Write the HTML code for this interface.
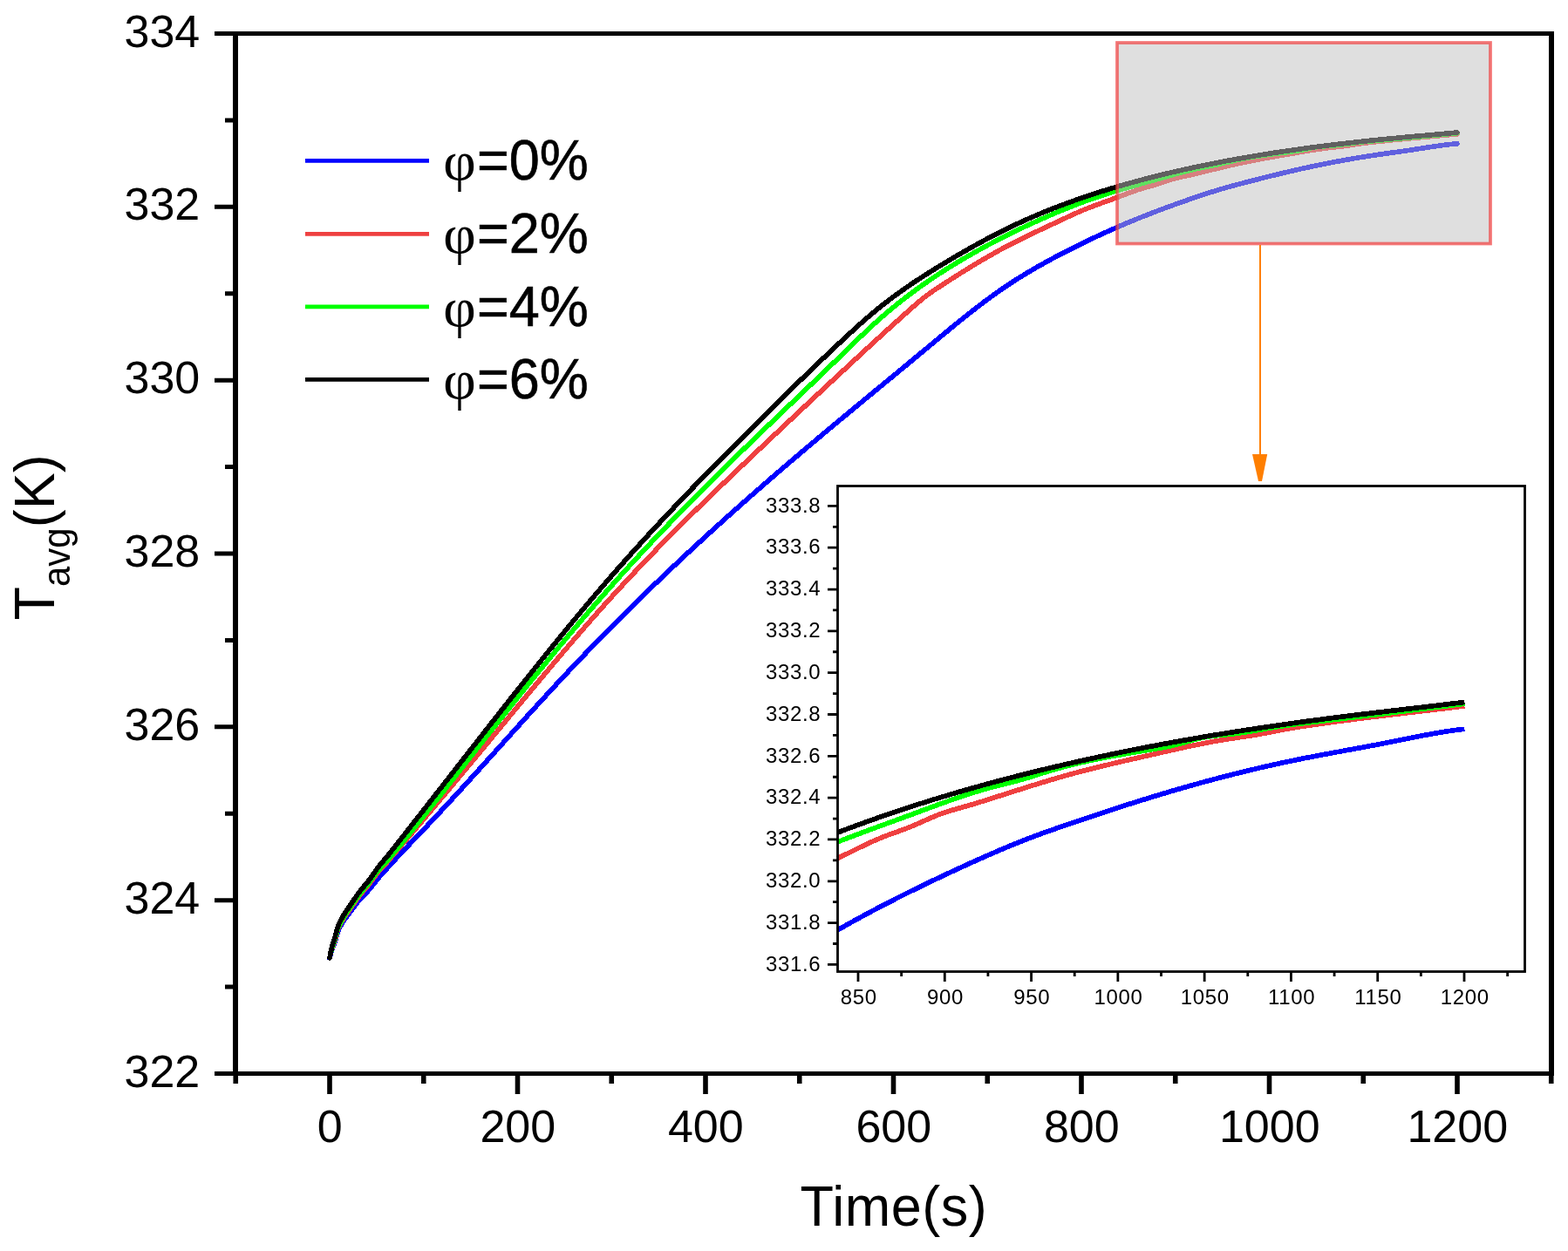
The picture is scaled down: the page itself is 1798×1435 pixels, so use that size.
<!DOCTYPE html>
<html><head><meta charset="utf-8"><title>T_avg vs Time</title>
<style>html,body{margin:0;padding:0;background:#fff;}svg{display:block;}</style>
</head><body>
<svg width="1798" height="1435" viewBox="0 0 1798 1435"><rect x="0" y="0" width="1798" height="1435" fill="#fff"/><g fill="none" stroke-width="5.7" stroke-linejoin="round" stroke-linecap="round" shape-rendering="crispEdges"><path stroke="#0000ff" d="M378.00,1099.00L379.08,1095.09L380.15,1091.16L381.23,1087.91L382.31,1085.05L383.39,1082.22L384.46,1079.16L385.54,1075.29L386.62,1071.43L387.70,1068.27L388.77,1065.57L389.85,1063.35L390.93,1061.40L392.01,1059.55L393.08,1057.76L394.16,1056.06L395.24,1054.47L396.32,1052.99L397.39,1051.60L398.47,1050.25L399.55,1048.87L400.63,1047.44L401.70,1046.01L402.78,1044.57L403.86,1043.14L404.94,1041.71L406.01,1040.28L407.09,1038.83L408.17,1037.40L409.25,1036.00L410.32,1034.65L411.40,1033.35L412.48,1032.08L413.56,1030.85L414.63,1029.65L415.71,1028.48L416.79,1027.37L417.87,1026.30L418.94,1025.26L420.02,1024.19L421.10,1023.06L422.18,1021.84L423.25,1020.57L424.33,1019.26L425.41,1017.92L426.49,1016.58L427.56,1015.23L428.64,1013.87L429.72,1012.51L430.80,1011.15L431.88,1009.79L434.03,1007.11L436.19,1004.51L438.34,1002.01L440.50,999.64L442.65,997.44L444.81,995.02L446.96,992.63L449.12,990.25L451.27,987.90L453.43,985.56L455.58,983.23L457.74,980.92L459.89,978.63L462.04,976.34L464.20,974.06L466.36,971.80L468.51,969.54L470.66,967.28L472.82,965.03L474.98,962.78L477.13,960.53L479.28,958.28L481.44,956.03L483.59,953.78L485.75,951.52L487.90,949.26L490.06,946.99L492.21,944.71L494.37,942.43L496.52,940.14L498.68,937.85L500.83,935.55L502.99,933.24L505.14,930.93L507.30,928.62L509.45,926.30L511.61,923.98L513.76,921.65L515.92,919.31L518.08,916.98L520.23,914.63L522.38,912.29L524.54,909.94L526.69,907.59L528.85,905.23L531.00,902.87L533.16,900.51L535.32,898.14L537.47,895.78L539.62,893.41L541.78,891.03L543.93,888.66L546.09,886.28L548.25,883.90L550.40,881.52L552.55,879.13L554.71,876.75L556.87,874.36L559.02,871.97L561.17,869.59L563.33,867.20L565.49,864.81L567.64,862.42L569.79,860.02L571.95,857.63L574.11,855.24L576.26,852.85L578.41,850.46L580.57,848.06L582.73,845.67L584.88,843.28L587.03,840.89L589.19,838.51L591.35,836.12L593.50,833.73L595.65,831.35L597.81,828.96L599.96,826.58L602.12,824.20L604.27,821.82L606.43,819.45L608.59,817.08L610.74,814.71L612.89,812.34L615.05,809.97L617.20,807.61L619.36,805.25L621.51,802.90L623.67,800.54L625.83,798.20L627.98,795.85L630.13,793.51L632.29,791.17L634.44,788.84L636.60,786.51L638.75,784.19L640.91,781.87L643.07,779.55L645.22,777.25L647.38,774.94L649.53,772.64L651.68,770.35L653.84,768.06L655.99,765.78L658.15,763.50L660.30,761.23L662.46,758.96L664.62,756.70L666.77,754.44L668.92,752.19L671.08,749.94L673.23,747.70L675.39,745.46L677.54,743.23L679.70,741.01L681.86,738.78L684.01,736.57L686.16,734.35L688.32,732.15L690.47,729.94L692.63,727.75L694.78,725.55L696.94,723.37L699.10,721.18L701.25,719.00L703.40,716.83L705.56,714.66L707.71,712.50L709.87,710.34L712.02,708.18L714.18,706.03L716.34,703.89L718.49,701.74L720.64,699.61L722.80,697.47L724.95,695.35L727.11,693.22L729.26,691.10L731.42,688.99L733.58,686.88L735.73,684.77L737.88,682.67L740.04,680.57L742.19,678.48L744.35,676.39L746.50,674.30L748.66,672.22L750.81,670.14L752.97,668.07L755.12,666.00L757.28,663.94L759.43,661.88L761.59,659.82L763.74,657.77L765.90,655.72L768.05,653.68L770.21,651.64L772.37,649.60L774.52,647.57L776.67,645.54L778.83,643.51L780.98,641.49L783.14,639.47L785.29,637.46L787.45,635.45L789.61,633.44L791.76,631.44L793.91,629.44L796.07,627.45L798.22,625.45L800.38,623.47L802.53,621.48L804.69,619.50L806.85,617.52L809.00,615.55L811.15,613.58L813.31,611.61L815.46,609.65L817.62,607.69L819.77,605.73L821.93,603.78L824.09,601.82L826.24,599.88L828.39,597.93L830.55,595.99L832.70,594.05L834.86,592.12L837.01,590.19L839.17,588.26L841.32,586.34L843.48,584.41L845.63,582.50L847.79,580.58L849.94,578.67L852.10,576.76L854.25,574.85L856.41,572.95L858.56,571.04L860.72,569.15L862.88,567.25L865.03,565.36L867.18,563.47L869.34,561.58L871.49,559.70L873.65,557.82L875.80,555.94L877.96,554.06L880.12,552.19L882.27,550.32L884.42,548.45L886.58,546.58L888.73,544.72L890.89,542.86L893.04,541.00L895.20,539.14L897.35,537.29L899.51,535.44L901.66,533.59L903.82,531.75L905.97,529.90L908.13,528.06L910.28,526.22L912.44,524.39L914.59,522.55L916.75,520.72L918.90,518.89L921.06,517.06L923.21,515.23L925.37,513.41L927.52,511.59L929.68,509.77L931.83,507.95L933.99,506.14L936.14,504.32L938.30,502.51L940.45,500.70L942.61,498.90L944.76,497.09L946.92,495.29L949.07,493.48L951.23,491.68L953.38,489.88L955.54,488.09L957.69,486.29L959.85,484.50L962.00,482.70L964.16,480.91L966.31,479.12L968.47,477.33L970.62,475.54L972.78,473.76L974.93,471.97L977.09,470.18L979.24,468.40L981.40,466.62L983.55,464.83L985.71,463.05L987.86,461.27L990.02,459.49L992.17,457.71L994.33,455.93L996.48,454.15L998.64,452.37L1000.79,450.59L1002.95,448.82L1005.10,447.04L1007.26,445.26L1009.41,443.48L1011.57,441.71L1013.72,439.93L1015.88,438.15L1018.03,436.37L1020.19,434.60L1022.34,432.82L1024.50,431.04L1026.65,429.26L1028.81,427.48L1030.96,425.70L1033.12,423.92L1035.28,422.14L1037.43,420.36L1039.59,418.58L1041.74,416.80L1043.89,415.01L1046.05,413.23L1048.20,411.44L1050.36,409.66L1052.51,407.87L1054.67,406.08L1056.82,404.29L1058.98,402.50L1061.13,400.71L1063.29,398.92L1065.44,397.12L1067.60,395.33L1069.75,393.53L1071.91,391.74L1074.07,389.95L1076.22,388.16L1078.38,386.37L1080.53,384.58L1082.68,382.80L1084.84,381.02L1086.99,379.24L1089.15,377.47L1091.30,375.70L1093.46,373.94L1095.61,372.18L1097.77,370.43L1099.92,368.68L1102.08,366.94L1104.23,365.21L1106.39,363.49L1108.55,361.77L1110.70,360.06L1112.86,358.36L1115.01,356.67L1117.16,354.99L1119.32,353.31L1121.47,351.65L1123.63,350.00L1125.78,348.36L1127.94,346.74L1130.09,345.12L1132.25,343.52L1134.40,341.93L1136.56,340.35L1138.71,338.79L1140.87,337.24L1143.03,335.70L1145.18,334.18L1147.34,332.68L1149.49,331.19L1151.64,329.72L1153.80,328.26L1155.95,326.82L1158.11,325.40L1160.26,323.99L1162.42,322.59L1164.57,321.21L1166.73,319.85L1168.88,318.50L1171.04,317.16L1173.19,315.83L1175.35,314.52L1177.50,313.22L1179.66,311.93L1181.82,310.66L1183.97,309.40L1186.12,308.14L1188.28,306.90L1190.43,305.67L1192.59,304.45L1194.74,303.24L1196.90,302.04L1199.05,300.85L1201.21,299.66L1203.36,298.49L1205.52,297.33L1207.67,296.17L1209.83,295.02L1211.98,293.88L1214.14,292.74L1216.30,291.61L1218.45,290.49L1220.61,289.38L1222.76,288.27L1224.91,287.17L1227.07,286.07L1229.22,284.98L1231.38,283.90L1233.53,282.83L1235.69,281.76L1237.84,280.70L1240.00,279.64L1242.15,278.59L1244.31,277.55L1246.46,276.51L1248.62,275.48L1250.78,274.45L1252.93,273.43L1255.09,272.42L1257.24,271.41L1259.39,270.41L1261.55,269.41L1263.70,268.42L1265.86,267.43L1268.01,266.45L1270.17,265.48L1272.32,264.51L1274.48,263.55L1276.63,262.59L1278.79,261.64L1280.94,260.70L1283.10,259.76L1285.25,258.83L1287.41,257.91L1289.57,256.99L1291.72,256.08L1293.88,255.18L1296.03,254.28L1298.18,253.39L1300.34,252.51L1302.49,251.63L1304.65,250.76L1306.80,249.89L1308.96,249.03L1311.11,248.17L1313.27,247.32L1315.42,246.48L1317.58,245.64L1319.73,244.80L1321.89,243.97L1324.05,243.15L1326.20,242.33L1328.36,241.51L1330.51,240.70L1332.66,239.90L1334.82,239.09L1336.97,238.30L1339.13,237.50L1341.28,236.72L1343.44,235.93L1345.59,235.15L1347.75,234.37L1349.90,233.60L1352.06,232.83L1354.21,232.06L1356.37,231.30L1358.52,230.54L1360.68,229.79L1362.84,229.03L1364.99,228.28L1367.14,227.54L1369.30,226.80L1371.45,226.07L1373.61,225.34L1375.76,224.61L1377.92,223.90L1380.07,223.19L1382.23,222.48L1384.38,221.78L1386.54,221.09L1388.69,220.41L1390.85,219.73L1393.00,219.06L1395.16,218.40L1397.32,217.75L1399.47,217.11L1401.62,216.48L1403.78,215.85L1405.93,215.24L1408.09,214.63L1410.24,214.04L1412.40,213.45L1414.55,212.87L1416.71,212.29L1418.87,211.72L1421.02,211.15L1423.17,210.59L1425.33,210.02L1427.48,209.46L1429.64,208.90L1431.79,208.34L1433.95,207.78L1436.10,207.22L1438.26,206.67L1440.41,206.12L1442.57,205.57L1444.72,205.02L1446.88,204.47L1449.03,203.93L1451.19,203.39L1453.34,202.85L1455.50,202.32L1457.65,201.78L1459.81,201.25L1461.96,200.73L1464.12,200.20L1466.27,199.68L1468.43,199.16L1470.58,198.65L1472.74,198.13L1474.89,197.62L1477.05,197.12L1479.20,196.62L1481.36,196.12L1483.51,195.62L1485.67,195.13L1487.82,194.64L1489.98,194.15L1492.13,193.67L1494.29,193.19L1496.44,192.72L1498.60,192.25L1500.75,191.78L1502.91,191.32L1505.06,190.86L1507.22,190.41L1509.38,189.95L1511.53,189.51L1513.68,189.06L1515.84,188.62L1517.99,188.19L1520.15,187.76L1522.30,187.33L1524.46,186.90L1526.62,186.48L1528.77,186.07L1530.92,185.66L1533.08,185.25L1535.23,184.85L1537.39,184.45L1539.54,184.05L1541.70,183.66L1543.85,183.28L1546.01,182.89L1548.16,182.52L1550.32,182.14L1552.47,181.77L1554.63,181.41L1556.78,181.05L1558.94,180.69L1561.09,180.34L1563.25,180.00L1565.40,179.65L1567.56,179.32L1569.71,178.98L1571.87,178.65L1574.02,178.33L1576.18,178.01L1578.33,177.69L1580.49,177.38L1582.64,177.06L1584.80,176.75L1586.95,176.45L1589.11,176.14L1591.26,175.84L1593.42,175.53L1595.57,175.23L1597.73,174.93L1599.88,174.62L1602.04,174.32L1604.19,174.02L1606.35,173.71L1608.50,173.41L1610.66,173.10L1612.81,172.79L1614.97,172.48L1617.12,172.16L1619.28,171.85L1621.43,171.52L1623.59,171.20L1625.74,170.87L1627.90,170.54L1630.05,170.21L1632.21,169.87L1634.36,169.54L1636.52,169.21L1638.67,168.88L1640.83,168.55L1642.98,168.23L1645.14,167.91L1647.29,167.60L1649.45,167.29L1651.60,166.99L1653.76,166.70L1655.91,166.42L1658.07,166.15L1660.22,165.89L1662.38,165.65L1664.53,165.41L1666.69,165.19L1668.84,164.99L1671.00,164.80"/><path stroke="#ef4040" d="M378.00,1099.00L379.08,1094.29L380.15,1089.97L381.23,1086.41L382.31,1083.22L383.39,1080.12L384.46,1076.86L385.54,1072.90L386.62,1069.01L387.70,1065.81L388.77,1063.07L389.85,1060.81L390.93,1058.83L392.01,1056.94L393.08,1055.09L394.16,1053.32L395.24,1051.62L396.32,1049.99L397.39,1048.43L398.47,1046.90L399.55,1045.37L400.63,1043.82L401.70,1042.29L402.78,1040.76L403.86,1039.24L404.94,1037.71L406.01,1036.18L407.09,1034.65L408.17,1033.12L409.25,1031.62L410.32,1030.15L411.40,1028.72L412.48,1027.31L413.56,1025.93L414.63,1024.58L415.71,1023.25L416.79,1021.99L417.87,1020.77L418.94,1019.57L420.02,1018.34L421.10,1017.06L422.18,1015.68L423.25,1014.25L424.33,1012.78L425.41,1011.29L426.49,1009.82L427.56,1008.35L428.64,1006.90L429.72,1005.46L430.80,1004.05L431.88,1002.66L434.03,999.94L436.19,997.34L438.34,994.88L440.50,992.58L442.65,990.47L444.81,987.95L446.96,985.44L449.12,982.92L451.27,980.40L453.43,977.88L455.58,975.36L457.74,972.83L459.89,970.31L462.04,967.78L464.20,965.25L466.36,962.73L468.51,960.19L470.66,957.66L472.82,955.13L474.98,952.59L477.13,950.05L479.28,947.51L481.44,944.97L483.59,942.43L485.75,939.88L487.90,937.34L490.06,934.79L492.21,932.24L494.37,929.69L496.52,927.13L498.68,924.58L500.83,922.02L502.99,919.46L505.14,916.90L507.30,914.34L509.45,911.78L511.61,909.21L513.76,906.64L515.92,904.07L518.08,901.50L520.23,898.93L522.38,896.35L524.54,893.77L526.69,891.19L528.85,888.61L531.00,886.03L533.16,883.44L535.32,880.86L537.47,878.27L539.62,875.68L541.78,873.08L543.93,870.49L546.09,867.89L548.25,865.29L550.40,862.69L552.55,860.09L554.71,857.49L556.87,854.88L559.02,852.28L561.17,849.67L563.33,847.06L565.49,844.46L567.64,841.85L569.79,839.24L571.95,836.63L574.11,834.03L576.26,831.42L578.41,828.81L580.57,826.20L582.73,823.59L584.88,820.99L587.03,818.38L589.19,815.78L591.35,813.17L593.50,810.57L595.65,807.97L597.81,805.37L599.96,802.77L602.12,800.17L604.27,797.58L606.43,794.99L608.59,792.40L610.74,789.81L612.89,787.22L615.05,784.64L617.20,782.06L619.36,779.48L621.51,776.90L623.67,774.33L625.83,771.76L627.98,769.19L630.13,766.63L632.29,764.07L634.44,761.52L636.60,758.97L638.75,756.42L640.91,753.87L643.07,751.34L645.22,748.80L647.38,746.27L649.53,743.74L651.68,741.22L653.84,738.71L655.99,736.20L658.15,733.69L660.30,731.19L662.46,728.69L664.62,726.20L666.77,723.72L668.92,721.24L671.08,718.77L673.23,716.30L675.39,713.84L677.54,711.39L679.70,708.94L681.86,706.50L684.01,704.07L686.16,701.64L688.32,699.22L690.47,696.81L692.63,694.41L694.78,692.01L696.94,689.62L699.10,687.24L701.25,684.86L703.40,682.49L705.56,680.14L707.71,677.78L709.87,675.44L712.02,673.11L714.18,670.78L716.34,668.46L718.49,666.14L720.64,663.84L722.80,661.54L724.95,659.24L727.11,656.96L729.26,654.68L731.42,652.41L733.58,650.14L735.73,647.88L737.88,645.63L740.04,643.38L742.19,641.14L744.35,638.91L746.50,636.68L748.66,634.46L750.81,632.24L752.97,630.03L755.12,627.83L757.28,625.63L759.43,623.44L761.59,621.25L763.74,619.07L765.90,616.89L768.05,614.71L770.21,612.55L772.37,610.38L774.52,608.23L776.67,606.07L778.83,603.92L780.98,601.78L783.14,599.64L785.29,597.50L787.45,595.37L789.61,593.25L791.76,591.12L793.91,589.00L796.07,586.89L798.22,584.78L800.38,582.67L802.53,580.56L804.69,578.46L806.85,576.37L809.00,574.27L811.15,572.18L813.31,570.09L815.46,568.01L817.62,565.93L819.77,563.85L821.93,561.77L824.09,559.70L826.24,557.62L828.39,555.56L830.55,553.49L832.70,551.42L834.86,549.36L837.01,547.30L839.17,545.24L841.32,543.19L843.48,541.13L845.63,539.08L847.79,537.03L849.94,534.98L852.10,532.93L854.25,530.88L856.41,528.83L858.56,526.79L860.72,524.75L862.88,522.70L865.03,520.66L867.18,518.62L869.34,516.58L871.49,514.54L873.65,512.50L875.80,510.46L877.96,508.42L880.12,506.38L882.27,504.35L884.42,502.31L886.58,500.28L888.73,498.24L890.89,496.21L893.04,494.18L895.20,492.15L897.35,490.12L899.51,488.09L901.66,486.06L903.82,484.03L905.97,482.00L908.13,479.98L910.28,477.95L912.44,475.93L914.59,473.90L916.75,471.88L918.90,469.86L921.06,467.84L923.21,465.82L925.37,463.80L927.52,461.78L929.68,459.76L931.83,457.74L933.99,455.73L936.14,453.71L938.30,451.70L940.45,449.69L942.61,447.67L944.76,445.66L946.92,443.65L949.07,441.64L951.23,439.63L953.38,437.62L955.54,435.61L957.69,433.61L959.85,431.60L962.00,429.60L964.16,427.59L966.31,425.59L968.47,423.59L970.62,421.59L972.78,419.59L974.93,417.59L977.09,415.59L979.24,413.59L981.40,411.60L983.55,409.60L985.71,407.61L987.86,405.62L990.02,403.63L992.17,401.64L994.33,399.65L996.48,397.67L998.64,395.69L1000.79,393.71L1002.95,391.73L1005.10,389.75L1007.26,387.78L1009.41,385.81L1011.57,383.84L1013.72,381.88L1015.88,379.91L1018.03,377.95L1020.19,376.00L1022.34,374.05L1024.50,372.10L1026.65,370.15L1028.81,368.21L1030.96,366.27L1033.12,364.33L1035.28,362.40L1037.43,360.47L1039.59,358.54L1041.74,356.62L1043.89,354.71L1046.05,352.80L1048.20,350.90L1050.36,349.01L1052.51,347.16L1054.67,345.34L1056.82,343.56L1058.98,341.82L1061.13,340.15L1063.29,338.52L1065.44,336.95L1067.60,335.42L1069.75,333.93L1071.91,332.47L1074.07,331.03L1076.22,329.61L1078.38,328.19L1080.53,326.79L1082.68,325.39L1084.84,323.99L1086.99,322.60L1089.15,321.21L1091.30,319.83L1093.46,318.45L1095.61,317.08L1097.77,315.72L1099.92,314.36L1102.08,313.01L1104.23,311.66L1106.39,310.32L1108.55,308.99L1110.70,307.66L1112.86,306.34L1115.01,305.03L1117.16,303.73L1119.32,302.43L1121.47,301.14L1123.63,299.86L1125.78,298.59L1127.94,297.32L1130.09,296.07L1132.25,294.82L1134.40,293.58L1136.56,292.35L1138.71,291.13L1140.87,289.92L1143.03,288.72L1145.18,287.53L1147.34,286.35L1149.49,285.18L1151.64,284.02L1153.80,282.88L1155.95,281.74L1158.11,280.61L1160.26,279.49L1162.42,278.39L1164.57,277.30L1166.73,276.21L1168.88,275.14L1171.04,274.07L1173.19,273.01L1175.35,271.96L1177.50,270.91L1179.66,269.88L1181.82,268.84L1183.97,267.82L1186.12,266.80L1188.28,265.78L1190.43,264.76L1192.59,263.75L1194.74,262.74L1196.90,261.73L1199.05,260.73L1201.21,259.72L1203.36,258.71L1205.52,257.71L1207.67,256.70L1209.83,255.69L1211.98,254.68L1214.14,253.66L1216.30,252.64L1218.45,251.63L1220.61,250.61L1222.76,249.60L1224.91,248.59L1227.07,247.59L1229.22,246.60L1231.38,245.62L1233.53,244.65L1235.69,243.70L1237.84,242.76L1240.00,241.84L1242.15,240.95L1244.31,240.07L1246.46,239.21L1248.62,238.36L1250.78,237.53L1252.93,236.71L1255.09,235.90L1257.24,235.10L1259.39,234.31L1261.55,233.53L1263.70,232.75L1265.86,231.98L1268.01,231.20L1270.17,230.43L1272.32,229.66L1274.48,228.88L1276.63,228.10L1278.79,227.31L1280.94,226.52L1283.10,225.71L1285.25,224.90L1287.41,224.09L1289.57,223.27L1291.72,222.45L1293.88,221.64L1296.03,220.84L1298.18,220.05L1300.34,219.28L1302.49,218.52L1304.65,217.78L1306.80,217.07L1308.96,216.39L1311.11,215.74L1313.27,215.12L1315.42,214.52L1317.58,213.94L1319.73,213.35L1321.89,212.75L1324.05,212.14L1326.20,211.49L1328.36,210.81L1330.51,210.09L1332.66,209.35L1334.82,208.61L1336.97,207.87L1339.13,207.14L1341.28,206.44L1343.44,205.78L1345.59,205.17L1347.75,204.60L1349.90,204.06L1352.06,203.56L1354.21,203.07L1356.37,202.60L1358.52,202.13L1360.68,201.66L1362.84,201.19L1364.99,200.71L1367.14,200.21L1369.30,199.71L1371.45,199.20L1373.61,198.68L1375.76,198.16L1377.92,197.63L1380.07,197.11L1382.23,196.58L1384.38,196.05L1386.54,195.53L1388.69,195.00L1390.85,194.48L1393.00,193.95L1395.16,193.43L1397.32,192.91L1399.47,192.39L1401.62,191.87L1403.78,191.36L1405.93,190.85L1408.09,190.35L1410.24,189.84L1412.40,189.35L1414.55,188.86L1416.71,188.37L1418.87,187.89L1421.02,187.42L1423.17,186.95L1425.33,186.49L1427.48,186.03L1429.64,185.59L1431.79,185.15L1433.95,184.72L1436.10,184.29L1438.26,183.87L1440.41,183.46L1442.57,183.05L1444.72,182.65L1446.88,182.25L1449.03,181.86L1451.19,181.47L1453.34,181.08L1455.50,180.70L1457.65,180.31L1459.81,179.94L1461.96,179.56L1464.12,179.18L1466.27,178.81L1468.43,178.43L1470.58,178.06L1472.74,177.69L1474.89,177.31L1477.05,176.94L1479.20,176.56L1481.36,176.19L1483.51,175.81L1485.67,175.44L1487.82,175.07L1489.98,174.69L1492.13,174.33L1494.29,173.96L1496.44,173.60L1498.60,173.24L1500.75,172.89L1502.91,172.54L1505.06,172.20L1507.22,171.87L1509.38,171.54L1511.53,171.22L1513.68,170.91L1515.84,170.60L1517.99,170.31L1520.15,170.03L1522.30,169.75L1524.46,169.49L1526.62,169.24L1528.77,169.00L1530.92,168.76L1533.08,168.53L1535.23,168.29L1537.39,168.04L1539.54,167.78L1541.70,167.50L1543.85,167.20L1546.01,166.89L1548.16,166.57L1550.32,166.24L1552.47,165.91L1554.63,165.59L1556.78,165.27L1558.94,164.96L1561.09,164.67L1563.25,164.39L1565.40,164.12L1567.56,163.86L1569.71,163.60L1571.87,163.35L1574.02,163.11L1576.18,162.87L1578.33,162.63L1580.49,162.39L1582.64,162.16L1584.80,161.93L1586.95,161.70L1589.11,161.48L1591.26,161.25L1593.42,161.03L1595.57,160.82L1597.73,160.60L1599.88,160.39L1602.04,160.18L1604.19,159.97L1606.35,159.76L1608.50,159.55L1610.66,159.35L1612.81,159.14L1614.97,158.94L1617.12,158.74L1619.28,158.54L1621.43,158.34L1623.59,158.15L1625.74,157.95L1627.90,157.75L1630.05,157.56L1632.21,157.36L1634.36,157.17L1636.52,156.98L1638.67,156.78L1640.83,156.59L1642.98,156.40L1645.14,156.20L1647.29,156.01L1649.45,155.81L1651.60,155.62L1653.76,155.43L1655.91,155.23L1658.07,155.03L1660.22,154.84L1662.38,154.64L1664.53,154.44L1666.69,154.24L1668.84,154.04L1671.00,153.84"/><path stroke="#00ff00" d="M378.00,1099.00L379.08,1093.89L380.15,1089.21L381.23,1085.41L382.31,1082.12L383.39,1078.96L384.46,1075.66L385.54,1071.67L386.62,1067.76L387.70,1064.53L388.77,1061.77L389.85,1059.49L390.93,1057.49L392.01,1055.58L393.08,1053.70L394.16,1051.91L395.24,1050.20L396.32,1048.55L397.39,1046.97L398.47,1045.42L399.55,1043.87L400.63,1042.30L401.70,1040.74L402.78,1039.19L403.86,1037.65L404.94,1036.10L406.01,1034.55L407.09,1033.00L408.17,1031.45L409.25,1029.93L410.32,1028.45L411.40,1027.00L412.48,1025.58L413.56,1024.19L414.63,1022.82L415.71,1021.49L416.79,1020.21L417.87,1018.98L418.94,1017.77L420.02,1016.54L421.10,1015.24L422.18,1013.86L423.25,1012.43L424.33,1010.96L425.41,1009.49L426.49,1008.02L427.56,1006.57L428.64,1005.14L429.72,1003.72L430.80,1002.32L431.88,1000.95L434.03,998.27L436.19,995.70L438.34,993.27L440.50,990.98L442.65,988.86L444.81,986.32L446.96,983.77L449.12,981.20L451.27,978.63L453.43,976.05L455.58,973.46L457.74,970.86L459.89,968.26L462.04,965.64L464.20,963.02L466.36,960.38L468.51,957.75L470.66,955.10L472.82,952.45L474.98,949.79L477.13,947.12L479.28,944.45L481.44,941.77L483.59,939.08L485.75,936.39L487.90,933.70L490.06,931.00L492.21,928.29L494.37,925.58L496.52,922.87L498.68,920.15L500.83,917.43L502.99,914.70L505.14,911.98L507.30,909.25L509.45,906.51L511.61,903.78L513.76,901.04L515.92,898.30L518.08,895.56L520.23,892.82L522.38,890.08L524.54,887.33L526.69,884.59L528.85,881.84L531.00,879.10L533.16,876.36L535.32,873.61L537.47,870.87L539.62,868.13L541.78,865.39L543.93,862.65L546.09,859.91L548.25,857.18L550.40,854.44L552.55,851.71L554.71,848.98L556.87,846.25L559.02,843.53L561.17,840.80L563.33,838.08L565.49,835.36L567.64,832.65L569.79,829.93L571.95,827.22L574.11,824.51L576.26,821.80L578.41,819.10L580.57,816.40L582.73,813.70L584.88,811.00L587.03,808.31L589.19,805.62L591.35,802.93L593.50,800.25L595.65,797.57L597.81,794.89L599.96,792.22L602.12,789.55L604.27,786.88L606.43,784.22L608.59,781.56L610.74,778.91L612.89,776.26L615.05,773.61L617.20,770.97L619.36,768.33L621.51,765.70L623.67,763.07L625.83,760.44L627.98,757.82L630.13,755.20L632.29,752.59L634.44,749.98L636.60,747.38L638.75,744.78L640.91,742.19L643.07,739.60L645.22,737.02L647.38,734.44L649.53,731.87L651.68,729.30L653.84,726.74L655.99,724.19L658.15,721.63L660.30,719.09L662.46,716.55L664.62,714.02L666.77,711.49L668.92,708.97L671.08,706.45L673.23,703.94L675.39,701.44L677.54,698.94L679.70,696.45L681.86,693.96L684.01,691.49L686.16,689.01L688.32,686.55L690.47,684.09L692.63,681.64L694.78,679.19L696.94,676.76L699.10,674.33L701.25,671.90L703.40,669.48L705.56,667.07L707.71,664.67L709.87,662.28L712.02,659.89L714.18,657.50L716.34,655.13L718.49,652.76L720.64,650.40L722.80,648.04L724.95,645.69L727.11,643.35L729.26,641.01L731.42,638.68L733.58,636.36L735.73,634.04L737.88,631.72L740.04,629.42L742.19,627.12L744.35,624.82L746.50,622.53L748.66,620.25L750.81,617.97L752.97,615.70L755.12,613.43L757.28,611.17L759.43,608.91L761.59,606.66L763.74,604.42L765.90,602.18L768.05,599.94L770.21,597.71L772.37,595.48L774.52,593.26L776.67,591.04L778.83,588.83L780.98,586.62L783.14,584.42L785.29,582.22L787.45,580.03L789.61,577.84L791.76,575.65L793.91,573.47L796.07,571.30L798.22,569.12L800.38,566.95L802.53,564.79L804.69,562.63L806.85,560.47L809.00,558.31L811.15,556.16L813.31,554.02L815.46,551.87L817.62,549.73L819.77,547.60L821.93,545.46L824.09,543.33L826.24,541.21L828.39,539.08L830.55,536.96L832.70,534.84L834.86,532.73L837.01,530.61L839.17,528.50L841.32,526.40L843.48,524.29L845.63,522.19L847.79,520.09L849.94,517.99L852.10,515.90L854.25,513.80L856.41,511.71L858.56,509.62L860.72,507.54L862.88,505.45L865.03,503.37L867.18,501.29L869.34,499.21L871.49,497.13L873.65,495.05L875.80,492.98L877.96,490.91L880.12,488.83L882.27,486.76L884.42,484.69L886.58,482.62L888.73,480.56L890.89,478.49L893.04,476.42L895.20,474.36L897.35,472.29L899.51,470.23L901.66,468.16L903.82,466.10L905.97,464.03L908.13,461.97L910.28,459.91L912.44,457.85L914.59,455.78L916.75,453.72L918.90,451.65L921.06,449.59L923.21,447.53L925.37,445.46L927.52,443.40L929.68,441.33L931.83,439.26L933.99,437.20L936.14,435.13L938.30,433.06L940.45,430.99L942.61,428.92L944.76,426.84L946.92,424.77L949.07,422.69L951.23,420.62L953.38,418.54L955.54,416.46L957.69,414.38L959.85,412.29L962.00,410.21L964.16,408.12L966.31,406.03L968.47,403.94L970.62,401.85L972.78,399.75L974.93,397.65L977.09,395.56L979.24,393.46L981.40,391.37L983.55,389.29L985.71,387.21L987.86,385.14L990.02,383.08L992.17,381.03L994.33,378.99L996.48,376.97L998.64,374.97L1000.79,372.98L1002.95,371.01L1005.10,369.06L1007.26,367.13L1009.41,365.23L1011.57,363.34L1013.72,361.47L1015.88,359.62L1018.03,357.78L1020.19,355.97L1022.34,354.17L1024.50,352.40L1026.65,350.64L1028.81,348.89L1030.96,347.17L1033.12,345.46L1035.28,343.77L1037.43,342.10L1039.59,340.44L1041.74,338.80L1043.89,337.17L1046.05,335.56L1048.20,333.97L1050.36,332.39L1052.51,330.82L1054.67,329.27L1056.82,327.74L1058.98,326.22L1061.13,324.71L1063.29,323.22L1065.44,321.74L1067.60,320.28L1069.75,318.82L1071.91,317.38L1074.07,315.96L1076.22,314.54L1078.38,313.14L1080.53,311.75L1082.68,310.38L1084.84,309.01L1086.99,307.66L1089.15,306.31L1091.30,304.98L1093.46,303.66L1095.61,302.35L1097.77,301.05L1099.92,299.76L1102.08,298.47L1104.23,297.20L1106.39,295.94L1108.55,294.69L1110.70,293.44L1112.86,292.21L1115.01,290.98L1117.16,289.76L1119.32,288.56L1121.47,287.36L1123.63,286.16L1125.78,284.98L1127.94,283.81L1130.09,282.64L1132.25,281.48L1134.40,280.33L1136.56,279.19L1138.71,278.06L1140.87,276.93L1143.03,275.81L1145.18,274.70L1147.34,273.60L1149.49,272.50L1151.64,271.41L1153.80,270.33L1155.95,269.26L1158.11,268.19L1160.26,267.13L1162.42,266.08L1164.57,265.03L1166.73,263.99L1168.88,262.96L1171.04,261.93L1173.19,260.91L1175.35,259.90L1177.50,258.89L1179.66,257.89L1181.82,256.90L1183.97,255.91L1186.12,254.93L1188.28,253.95L1190.43,252.98L1192.59,252.02L1194.74,251.06L1196.90,250.10L1199.05,249.16L1201.21,248.22L1203.36,247.29L1205.52,246.36L1207.67,245.44L1209.83,244.53L1211.98,243.62L1214.14,242.72L1216.30,241.83L1218.45,240.94L1220.61,240.06L1222.76,239.19L1224.91,238.33L1227.07,237.47L1229.22,236.62L1231.38,235.78L1233.53,234.95L1235.69,234.12L1237.84,233.30L1240.00,232.49L1242.15,231.69L1244.31,230.90L1246.46,230.11L1248.62,229.33L1250.78,228.56L1252.93,227.80L1255.09,227.05L1257.24,226.30L1259.39,225.57L1261.55,224.84L1263.70,224.12L1265.86,223.42L1268.01,222.72L1270.17,222.02L1272.32,221.34L1274.48,220.67L1276.63,220.00L1278.79,219.34L1280.94,218.69L1283.10,218.04L1285.25,217.40L1287.41,216.76L1289.57,216.13L1291.72,215.51L1293.88,214.89L1296.03,214.27L1298.18,213.66L1300.34,213.05L1302.49,212.44L1304.65,211.83L1306.80,211.23L1308.96,210.63L1311.11,210.02L1313.27,209.42L1315.42,208.82L1317.58,208.22L1319.73,207.62L1321.89,207.02L1324.05,206.41L1326.20,205.81L1328.36,205.20L1330.51,204.59L1332.66,203.97L1334.82,203.36L1336.97,202.75L1339.13,202.14L1341.28,201.54L1343.44,200.93L1345.59,200.33L1347.75,199.74L1349.90,199.15L1352.06,198.57L1354.21,197.99L1356.37,197.42L1358.52,196.86L1360.68,196.31L1362.84,195.78L1364.99,195.25L1367.14,194.73L1369.30,194.23L1371.45,193.74L1373.61,193.26L1375.76,192.80L1377.92,192.36L1380.07,191.93L1382.23,191.52L1384.38,191.11L1386.54,190.71L1388.69,190.30L1390.85,189.88L1393.00,189.44L1395.16,188.99L1397.32,188.51L1399.47,188.01L1401.62,187.49L1403.78,186.97L1405.93,186.44L1408.09,185.92L1410.24,185.40L1412.40,184.89L1414.55,184.39L1416.71,183.91L1418.87,183.45L1421.02,182.99L1423.17,182.55L1425.33,182.12L1427.48,181.71L1429.64,181.30L1431.79,180.91L1433.95,180.53L1436.10,180.17L1438.26,179.81L1440.41,179.46L1442.57,179.12L1444.72,178.79L1446.88,178.47L1449.03,178.16L1451.19,177.85L1453.34,177.55L1455.50,177.25L1457.65,176.96L1459.81,176.67L1461.96,176.39L1464.12,176.11L1466.27,175.83L1468.43,175.56L1470.58,175.28L1472.74,175.01L1474.89,174.74L1477.05,174.46L1479.20,174.18L1481.36,173.90L1483.51,173.60L1485.67,173.29L1487.82,172.95L1489.98,172.58L1492.13,172.18L1494.29,171.75L1496.44,171.28L1498.60,170.81L1500.75,170.33L1502.91,169.87L1505.06,169.43L1507.22,169.04L1509.38,168.70L1511.53,168.41L1513.68,168.18L1515.84,167.99L1517.99,167.82L1520.15,167.67L1522.30,167.51L1524.46,167.35L1526.62,167.17L1528.77,166.97L1530.92,166.75L1533.08,166.51L1535.23,166.25L1537.39,165.98L1539.54,165.71L1541.70,165.42L1543.85,165.13L1546.01,164.84L1548.16,164.56L1550.32,164.27L1552.47,163.99L1554.63,163.72L1556.78,163.46L1558.94,163.21L1561.09,162.98L1563.25,162.75L1565.40,162.54L1567.56,162.33L1569.71,162.13L1571.87,161.94L1574.02,161.74L1576.18,161.55L1578.33,161.35L1580.49,161.16L1582.64,160.96L1584.80,160.76L1586.95,160.57L1589.11,160.37L1591.26,160.18L1593.42,159.98L1595.57,159.78L1597.73,159.59L1599.88,159.39L1602.04,159.19L1604.19,159.00L1606.35,158.80L1608.50,158.60L1610.66,158.40L1612.81,158.20L1614.97,158.01L1617.12,157.81L1619.28,157.61L1621.43,157.41L1623.59,157.21L1625.74,157.01L1627.90,156.81L1630.05,156.61L1632.21,156.40L1634.36,156.20L1636.52,156.00L1638.67,155.80L1640.83,155.59L1642.98,155.39L1645.14,155.19L1647.29,154.98L1649.45,154.78L1651.60,154.57L1653.76,154.36L1655.91,154.16L1658.07,153.95L1660.22,153.74L1662.38,153.54L1664.53,153.33L1666.69,153.12L1668.84,152.91L1671.00,152.70"/><path stroke="#000000" d="M378.00,1099.00L379.08,1093.09L380.15,1087.99L381.23,1083.91L382.31,1080.41L383.39,1077.11L384.46,1073.66L385.54,1069.72L386.62,1065.64L387.70,1062.21L388.77,1059.57L389.85,1057.27L390.93,1055.20L392.01,1053.27L393.08,1051.40L394.16,1049.56L395.24,1047.81L396.32,1046.13L397.39,1044.51L398.47,1042.93L399.55,1041.37L400.63,1039.81L401.70,1038.24L402.78,1036.64L403.86,1035.04L404.94,1033.45L406.01,1031.86L407.09,1030.28L408.17,1028.71L409.25,1027.17L410.32,1025.65L411.40,1024.15L412.48,1022.69L413.56,1021.27L414.63,1019.91L415.71,1018.59L416.79,1017.30L417.87,1016.04L418.94,1014.79L420.02,1013.53L421.10,1012.26L422.18,1010.91L423.25,1009.51L424.33,1008.07L425.41,1006.58L426.49,1005.05L427.56,1003.49L428.64,1001.93L429.72,1000.37L430.80,998.82L431.88,997.29L434.03,994.33L436.19,991.52L438.34,988.88L440.50,986.43L442.65,984.13L444.81,981.39L446.96,978.65L449.12,975.92L451.27,973.18L453.43,970.43L455.58,967.69L457.74,964.95L459.89,962.20L462.04,959.46L464.20,956.71L466.36,953.96L468.51,951.21L470.66,948.46L472.82,945.71L474.98,942.95L477.13,940.20L479.28,937.44L481.44,934.69L483.59,931.93L485.75,929.17L487.90,926.42L490.06,923.66L492.21,920.90L494.37,918.14L496.52,915.38L498.68,912.62L500.83,909.86L502.99,907.10L505.14,904.33L507.30,901.57L509.45,898.81L511.61,896.05L513.76,893.28L515.92,890.52L518.08,887.76L520.23,884.99L522.38,882.23L524.54,879.47L526.69,876.71L528.85,873.94L531.00,871.18L533.16,868.42L535.32,865.66L537.47,862.89L539.62,860.13L541.78,857.37L543.93,854.61L546.09,851.85L548.25,849.09L550.40,846.33L552.55,843.58L554.71,840.82L556.87,838.07L559.02,835.31L561.17,832.56L563.33,829.81L565.49,827.06L567.64,824.31L569.79,821.56L571.95,818.82L574.11,816.07L576.26,813.33L578.41,810.59L580.57,807.85L582.73,805.12L584.88,802.38L587.03,799.65L589.19,796.92L591.35,794.20L593.50,791.47L595.65,788.75L597.81,786.04L599.96,783.32L602.12,780.61L604.27,777.90L606.43,775.20L608.59,772.49L610.74,769.79L612.89,767.10L615.05,764.41L617.20,761.72L619.36,759.03L621.51,756.35L623.67,753.68L625.83,751.00L627.98,748.33L630.13,745.67L632.29,743.01L634.44,740.35L636.60,737.70L638.75,735.05L640.91,732.41L643.07,729.77L645.22,727.14L647.38,724.51L649.53,721.89L651.68,719.27L653.84,716.66L655.99,714.05L658.15,711.45L660.30,708.86L662.46,706.26L664.62,703.68L666.77,701.10L668.92,698.53L671.08,695.96L673.23,693.40L675.39,690.84L677.54,688.29L679.70,685.75L681.86,683.21L684.01,680.68L686.16,678.16L688.32,675.64L690.47,673.13L692.63,670.63L694.78,668.13L696.94,665.65L699.10,663.16L701.25,660.69L703.40,658.22L705.56,655.76L707.71,653.31L709.87,650.86L712.02,648.42L714.18,645.99L716.34,643.57L718.49,641.15L720.64,638.74L722.80,636.33L724.95,633.93L727.11,631.54L729.26,629.15L731.42,626.77L733.58,624.40L735.73,622.03L737.88,619.67L740.04,617.32L742.19,614.97L744.35,612.62L746.50,610.28L748.66,607.95L750.81,605.62L752.97,603.30L755.12,600.99L757.28,598.68L759.43,596.37L761.59,594.07L763.74,591.78L765.90,589.49L768.05,587.20L770.21,584.92L772.37,582.64L774.52,580.37L776.67,578.11L778.83,575.84L780.98,573.59L783.14,571.33L785.29,569.08L787.45,566.84L789.61,564.60L791.76,562.36L793.91,560.13L796.07,557.90L798.22,555.68L800.38,553.45L802.53,551.24L804.69,549.02L806.85,546.81L809.00,544.61L811.15,542.40L813.31,540.20L815.46,538.00L817.62,535.81L819.77,533.62L821.93,531.43L824.09,529.24L826.24,527.06L828.39,524.88L830.55,522.70L832.70,520.53L834.86,518.36L837.01,516.19L839.17,514.02L841.32,511.85L843.48,509.69L845.63,507.53L847.79,505.37L849.94,503.21L852.10,501.06L854.25,498.90L856.41,496.75L858.56,494.60L860.72,492.45L862.88,490.30L865.03,488.15L867.18,486.01L869.34,483.87L871.49,481.72L873.65,479.58L875.80,477.44L877.96,475.31L880.12,473.17L882.27,471.04L884.42,468.91L886.58,466.78L888.73,464.65L890.89,462.52L893.04,460.40L895.20,458.28L897.35,456.16L899.51,454.04L901.66,451.93L903.82,449.82L905.97,447.71L908.13,445.60L910.28,443.50L912.44,441.40L914.59,439.30L916.75,437.21L918.90,435.12L921.06,433.03L923.21,430.94L925.37,428.86L927.52,426.78L929.68,424.70L931.83,422.63L933.99,420.56L936.14,418.50L938.30,416.43L940.45,414.38L942.61,412.32L944.76,410.27L946.92,408.22L949.07,406.18L951.23,404.14L953.38,402.11L955.54,400.08L957.69,398.05L959.85,396.03L962.00,394.01L964.16,391.99L966.31,389.98L968.47,387.98L970.62,385.98L972.78,383.98L974.93,381.99L977.09,380.01L979.24,378.04L981.40,376.07L983.55,374.12L985.71,372.18L987.86,370.25L990.02,368.34L992.17,366.45L994.33,364.57L996.48,362.71L998.64,360.88L1000.79,359.06L1002.95,357.27L1005.10,355.50L1007.26,353.75L1009.41,352.01L1011.57,350.30L1013.72,348.61L1015.88,346.94L1018.03,345.28L1020.19,343.64L1022.34,342.02L1024.50,340.42L1026.65,338.83L1028.81,337.26L1030.96,335.70L1033.12,334.16L1035.28,332.64L1037.43,331.13L1039.59,329.63L1041.74,328.15L1043.89,326.68L1046.05,325.22L1048.20,323.77L1050.36,322.34L1052.51,320.92L1054.67,319.51L1056.82,318.11L1058.98,316.72L1061.13,315.34L1063.29,313.97L1065.44,312.61L1067.60,311.25L1069.75,309.91L1071.91,308.57L1074.07,307.24L1076.22,305.91L1078.38,304.59L1080.53,303.28L1082.68,301.98L1084.84,300.68L1086.99,299.38L1089.15,298.09L1091.30,296.81L1093.46,295.54L1095.61,294.27L1097.77,293.01L1099.92,291.75L1102.08,290.50L1104.23,289.26L1106.39,288.02L1108.55,286.80L1110.70,285.58L1112.86,284.36L1115.01,283.16L1117.16,281.96L1119.32,280.77L1121.47,279.58L1123.63,278.40L1125.78,277.24L1127.94,276.07L1130.09,274.92L1132.25,273.78L1134.40,272.64L1136.56,271.51L1138.71,270.39L1140.87,269.28L1143.03,268.17L1145.18,267.08L1147.34,265.99L1149.49,264.91L1151.64,263.84L1153.80,262.78L1155.95,261.73L1158.11,260.69L1160.26,259.66L1162.42,258.63L1164.57,257.62L1166.73,256.61L1168.88,255.61L1171.04,254.62L1173.19,253.64L1175.35,252.67L1177.50,251.71L1179.66,250.76L1181.82,249.81L1183.97,248.87L1186.12,247.95L1188.28,247.03L1190.43,246.11L1192.59,245.21L1194.74,244.31L1196.90,243.42L1199.05,242.54L1201.21,241.67L1203.36,240.81L1205.52,239.95L1207.67,239.10L1209.83,238.26L1211.98,237.42L1214.14,236.60L1216.30,235.78L1218.45,234.96L1220.61,234.16L1222.76,233.36L1224.91,232.57L1227.07,231.78L1229.22,231.01L1231.38,230.23L1233.53,229.47L1235.69,228.71L1237.84,227.96L1240.00,227.22L1242.15,226.48L1244.31,225.75L1246.46,225.02L1248.62,224.30L1250.78,223.59L1252.93,222.88L1255.09,222.18L1257.24,221.48L1259.39,220.79L1261.55,220.11L1263.70,219.43L1265.86,218.76L1268.01,218.09L1270.17,217.43L1272.32,216.77L1274.48,216.12L1276.63,215.48L1278.79,214.84L1280.94,214.20L1283.10,213.57L1285.25,212.94L1287.41,212.32L1289.57,211.71L1291.72,211.10L1293.88,210.49L1296.03,209.89L1298.18,209.29L1300.34,208.70L1302.49,208.11L1304.65,207.53L1306.80,206.95L1308.96,206.38L1311.11,205.81L1313.27,205.24L1315.42,204.68L1317.58,204.13L1319.73,203.57L1321.89,203.03L1324.05,202.48L1326.20,201.95L1328.36,201.41L1330.51,200.88L1332.66,200.35L1334.82,199.83L1336.97,199.32L1339.13,198.80L1341.28,198.29L1343.44,197.79L1345.59,197.28L1347.75,196.79L1349.90,196.29L1352.06,195.80L1354.21,195.32L1356.37,194.83L1358.52,194.35L1360.68,193.88L1362.84,193.41L1364.99,192.94L1367.14,192.48L1369.30,192.02L1371.45,191.56L1373.61,191.10L1375.76,190.65L1377.92,190.21L1380.07,189.76L1382.23,189.32L1384.38,188.89L1386.54,188.45L1388.69,188.02L1390.85,187.60L1393.00,187.17L1395.16,186.75L1397.32,186.34L1399.47,185.92L1401.62,185.51L1403.78,185.10L1405.93,184.70L1408.09,184.29L1410.24,183.89L1412.40,183.50L1414.55,183.10L1416.71,182.71L1418.87,182.33L1421.02,181.94L1423.17,181.56L1425.33,181.18L1427.48,180.81L1429.64,180.43L1431.79,180.06L1433.95,179.69L1436.10,179.33L1438.26,178.97L1440.41,178.61L1442.57,178.25L1444.72,177.90L1446.88,177.55L1449.03,177.20L1451.19,176.85L1453.34,176.51L1455.50,176.17L1457.65,175.83L1459.81,175.50L1461.96,175.16L1464.12,174.83L1466.27,174.51L1468.43,174.18L1470.58,173.86L1472.74,173.54L1474.89,173.22L1477.05,172.90L1479.20,172.59L1481.36,172.28L1483.51,171.97L1485.67,171.67L1487.82,171.36L1489.98,171.06L1492.13,170.77L1494.29,170.47L1496.44,170.17L1498.60,169.88L1500.75,169.59L1502.91,169.31L1505.06,169.02L1507.22,168.74L1509.38,168.46L1511.53,168.18L1513.68,167.90L1515.84,167.63L1517.99,167.36L1520.15,167.09L1522.30,166.82L1524.46,166.55L1526.62,166.29L1528.77,166.03L1530.92,165.77L1533.08,165.51L1535.23,165.26L1537.39,165.00L1539.54,164.75L1541.70,164.50L1543.85,164.25L1546.01,164.01L1548.16,163.76L1550.32,163.52L1552.47,163.28L1554.63,163.04L1556.78,162.81L1558.94,162.57L1561.09,162.34L1563.25,162.11L1565.40,161.88L1567.56,161.65L1569.71,161.43L1571.87,161.20L1574.02,160.98L1576.18,160.76L1578.33,160.54L1580.49,160.32L1582.64,160.11L1584.80,159.89L1586.95,159.68L1589.11,159.47L1591.26,159.26L1593.42,159.05L1595.57,158.85L1597.73,158.64L1599.88,158.44L1602.04,158.24L1604.19,158.04L1606.35,157.84L1608.50,157.64L1610.66,157.44L1612.81,157.24L1614.97,157.05L1617.12,156.85L1619.28,156.66L1621.43,156.46L1623.59,156.27L1625.74,156.08L1627.90,155.88L1630.05,155.69L1632.21,155.50L1634.36,155.30L1636.52,155.11L1638.67,154.92L1640.83,154.73L1642.98,154.53L1645.14,154.34L1647.29,154.15L1649.45,153.95L1651.60,153.76L1653.76,153.56L1655.91,153.37L1658.07,153.17L1660.22,152.97L1662.38,152.77L1664.53,152.57L1666.69,152.37L1668.84,152.17L1671.00,151.97"/></g><path d="M267,38.5H1782M267,1231.5H1782" stroke="#000" stroke-width="5" fill="none"/><path d="M270.0,36V1234M1779.0,36V1234" stroke="#000" stroke-width="6" fill="none"/><path d="M246,1231.54H270.0M258,1132.12H270.0M246,1032.70H270.0M258,933.28H270.0M246,833.86H270.0M258,734.44H270.0M246,635.02H270.0M258,535.60H270.0M246,436.18H270.0M258,336.76H270.0M246,237.34H270.0M258,137.92H270.0M246,38.50H270.0" stroke="#000" stroke-width="5" fill="none"/><path d="M270.25,1231.5V1243M378.00,1231.5V1255M485.75,1231.5V1243M593.50,1231.5V1255M701.25,1231.5V1243M809.00,1231.5V1255M916.75,1231.5V1243M1024.50,1231.5V1255M1132.25,1231.5V1243M1240.00,1231.5V1255M1347.75,1231.5V1243M1455.50,1231.5V1255M1563.25,1231.5V1243M1671.00,1231.5V1255M1778.75,1231.5V1243" stroke="#000" stroke-width="5.6" fill="none"/><g font-family="&quot;Liberation Sans&quot;, Arial, sans-serif" font-size="52" fill="#000"><text x="229.3" y="1246.5" text-anchor="end">322</text><text x="229.3" y="1047.7" text-anchor="end">324</text><text x="229.3" y="848.9" text-anchor="end">326</text><text x="229.3" y="650.0" text-anchor="end">328</text><text x="229.3" y="451.2" text-anchor="end">330</text><text x="229.3" y="252.3" text-anchor="end">332</text><text x="229.3" y="53.5" text-anchor="end">334</text><text x="378.3" y="1309.5" text-anchor="middle">0</text><text x="593.8" y="1309.5" text-anchor="middle">200</text><text x="809.3" y="1309.5" text-anchor="middle">400</text><text x="1024.8" y="1309.5" text-anchor="middle">600</text><text x="1240.3" y="1309.5" text-anchor="middle">800</text><text x="1455.8" y="1309.5" text-anchor="middle">1000</text><text x="1671.3" y="1309.5" text-anchor="middle">1200</text></g><text transform="translate(917.6,1405.9) scale(1,1.037)" font-family="&quot;Liberation Sans&quot;, Arial, sans-serif" font-size="63" letter-spacing="0.5">Time(s)</text><text transform="translate(62.1,711.5) rotate(-90) scale(1,1.04)" font-family="&quot;Liberation Sans&quot;, Arial, sans-serif" font-size="63">T<tspan font-size="42" dy="16.8">avg</tspan><tspan dy="-16.8">(K)</tspan></text><line x1="350" y1="184.4" x2="492" y2="184.4" stroke="#0000ff" stroke-width="4.8"/><text transform="translate(508.2,206.3) scale(1.03,1.0)" font-family="&quot;Liberation Serif&quot;, &quot;Times New Roman&quot;, serif" font-size="63">φ</text><text transform="translate(546.9,206.3) scale(1,1.03)" font-family="&quot;Liberation Sans&quot;, Arial, sans-serif" font-size="63" stroke="#000" stroke-width="0.6">=0%</text><line x1="350" y1="268.4" x2="492" y2="268.4" stroke="#ef4040" stroke-width="4.8"/><text transform="translate(508.2,289.9) scale(1.03,1.0)" font-family="&quot;Liberation Serif&quot;, &quot;Times New Roman&quot;, serif" font-size="63">φ</text><text transform="translate(546.9,289.9) scale(1,1.03)" font-family="&quot;Liberation Sans&quot;, Arial, sans-serif" font-size="63" stroke="#000" stroke-width="0.6">=2%</text><line x1="350" y1="351.9" x2="492" y2="351.9" stroke="#00ff00" stroke-width="4.8"/><text transform="translate(508.2,373.5) scale(1.03,1.0)" font-family="&quot;Liberation Serif&quot;, &quot;Times New Roman&quot;, serif" font-size="63">φ</text><text transform="translate(546.9,373.5) scale(1,1.03)" font-family="&quot;Liberation Sans&quot;, Arial, sans-serif" font-size="63" stroke="#000" stroke-width="0.6">=4%</text><line x1="350" y1="435.4" x2="492" y2="435.4" stroke="#000000" stroke-width="4.8"/><text transform="translate(508.2,457.1) scale(1.03,1.0)" font-family="&quot;Liberation Serif&quot;, &quot;Times New Roman&quot;, serif" font-size="63">φ</text><text transform="translate(546.9,457.1) scale(1,1.03)" font-family="&quot;Liberation Sans&quot;, Arial, sans-serif" font-size="63" stroke="#000" stroke-width="0.6">=6%</text><rect x="1281" y="49" width="428" height="230.5" fill="rgb(192,192,192)" fill-opacity="0.5" stroke="rgb(240,60,60)" stroke-opacity="0.7" stroke-width="3.7"/><line x1="1445" y1="281" x2="1445" y2="524" stroke="#ff7f00" stroke-width="2"/><polygon points="1436,521 1453.2,521 1447,552 1443,552" fill="#ff7f00"/><rect x="960.5" y="557.5" width="788.0" height="557.0" fill="#fff" stroke="none"/><g fill="none" stroke-width="5.7" stroke-linejoin="round" stroke-linecap="butt" shape-rendering="crispEdges"><path stroke="#0000ff" d="M960.50,1066.77L963.51,1065.06L966.52,1063.37L969.52,1061.68L972.53,1060.00L975.54,1058.33L978.55,1056.67L981.56,1055.02L984.56,1053.38L987.57,1051.74L990.58,1050.12L993.59,1048.50L996.60,1046.89L999.60,1045.29L1002.61,1043.70L1005.62,1042.12L1008.63,1040.54L1011.63,1038.97L1014.64,1037.41L1017.65,1035.86L1020.66,1034.31L1023.67,1032.78L1026.67,1031.25L1029.68,1029.72L1032.69,1028.20L1035.70,1026.69L1038.71,1025.19L1041.71,1023.70L1044.72,1022.21L1047.73,1020.72L1050.74,1019.25L1053.75,1017.78L1056.75,1016.31L1059.76,1014.85L1062.77,1013.40L1065.78,1011.95L1068.79,1010.51L1071.79,1009.08L1074.80,1007.65L1077.81,1006.22L1080.82,1004.81L1083.82,1003.39L1086.83,1001.98L1089.84,1000.58L1092.85,999.18L1095.86,997.79L1098.86,996.40L1101.87,995.01L1104.88,993.63L1107.89,992.26L1110.90,990.89L1113.90,989.52L1116.91,988.16L1119.92,986.81L1122.93,985.47L1125.94,984.13L1128.94,982.80L1131.95,981.47L1134.96,980.16L1137.97,978.85L1140.98,977.55L1143.98,976.26L1146.99,974.98L1150.00,973.70L1153.01,972.44L1156.01,971.19L1159.02,969.94L1162.03,968.71L1165.04,967.49L1168.05,966.28L1171.05,965.08L1174.06,963.89L1177.07,962.72L1180.08,961.56L1183.09,960.41L1186.09,959.27L1189.10,958.15L1192.11,957.04L1195.12,955.94L1198.13,954.86L1201.13,953.79L1204.14,952.72L1207.15,951.67L1210.16,950.62L1213.17,949.57L1216.17,948.54L1219.18,947.50L1222.19,946.47L1225.20,945.44L1228.20,944.41L1231.21,943.39L1234.22,942.36L1237.23,941.34L1240.24,940.33L1243.24,939.31L1246.25,938.30L1249.26,937.29L1252.27,936.28L1255.28,935.28L1258.28,934.28L1261.29,933.28L1264.30,932.29L1267.31,931.30L1270.32,930.31L1273.32,929.32L1276.33,928.34L1279.34,927.36L1282.35,926.39L1285.36,925.42L1288.36,924.45L1291.37,923.49L1294.38,922.53L1297.39,921.58L1300.39,920.62L1303.40,919.68L1306.41,918.73L1309.42,917.80L1312.43,916.86L1315.43,915.93L1318.44,915.01L1321.45,914.08L1324.46,913.17L1327.47,912.26L1330.47,911.35L1333.48,910.45L1336.49,909.55L1339.50,908.65L1342.51,907.77L1345.51,906.88L1348.52,906.01L1351.53,905.13L1354.54,904.27L1357.55,903.40L1360.55,902.55L1363.56,901.69L1366.57,900.85L1369.58,900.01L1372.58,899.17L1375.59,898.34L1378.60,897.51L1381.61,896.69L1384.62,895.88L1387.62,895.07L1390.63,894.26L1393.64,893.46L1396.65,892.67L1399.66,891.88L1402.66,891.10L1405.67,890.32L1408.68,889.55L1411.69,888.79L1414.70,888.02L1417.70,887.27L1420.71,886.52L1423.72,885.78L1426.73,885.04L1429.74,884.31L1432.74,883.58L1435.75,882.86L1438.76,882.15L1441.77,881.44L1444.77,880.74L1447.78,880.04L1450.79,879.35L1453.80,878.67L1456.81,877.99L1459.81,877.32L1462.82,876.65L1465.83,875.99L1468.84,875.33L1471.85,874.69L1474.85,874.04L1477.86,873.41L1480.87,872.78L1483.88,872.16L1486.89,871.54L1489.89,870.93L1492.90,870.32L1495.91,869.72L1498.92,869.13L1501.93,868.54L1504.93,867.96L1507.94,867.38L1510.95,866.81L1513.96,866.24L1516.96,865.67L1519.97,865.11L1522.98,864.55L1525.99,863.99L1529.00,863.43L1532.00,862.88L1535.01,862.32L1538.02,861.77L1541.03,861.22L1544.04,860.67L1547.04,860.12L1550.05,859.57L1553.06,859.01L1556.07,858.46L1559.08,857.91L1562.08,857.35L1565.09,856.79L1568.10,856.23L1571.11,855.67L1574.12,855.10L1577.12,854.53L1580.13,853.95L1583.14,853.37L1586.15,852.79L1589.15,852.20L1592.16,851.61L1595.17,851.01L1598.18,850.41L1601.19,849.80L1604.19,849.20L1607.20,848.59L1610.21,847.98L1613.22,847.38L1616.23,846.77L1619.23,846.17L1622.24,845.58L1625.25,844.98L1628.26,844.40L1631.27,843.82L1634.27,843.25L1637.28,842.68L1640.29,842.13L1643.30,841.59L1646.31,841.06L1649.31,840.54L1652.32,840.04L1655.33,839.55L1658.34,839.08L1661.34,838.62L1664.35,838.18L1667.36,837.76L1670.37,837.36L1673.38,836.98L1676.38,836.62L1679.39,836.28"/><path stroke="#ef4040" d="M960.50,984.59L963.51,983.13L966.52,981.66L969.52,980.17L972.53,978.69L975.54,977.20L978.55,975.71L981.56,974.23L984.56,972.76L987.57,971.30L990.58,969.85L993.59,968.43L996.60,967.02L999.60,965.65L1002.61,964.30L1005.62,962.98L1008.63,961.71L1011.63,960.47L1014.64,959.27L1017.65,958.12L1020.66,957.01L1023.67,955.92L1026.67,954.85L1029.68,953.79L1032.69,952.71L1035.70,951.63L1038.71,950.51L1041.71,949.35L1044.72,948.15L1047.73,946.89L1050.74,945.59L1053.75,944.25L1056.75,942.90L1059.76,941.55L1062.77,940.19L1065.78,938.86L1068.79,937.56L1071.79,936.30L1074.80,935.10L1077.81,933.96L1080.82,932.89L1083.82,931.86L1086.83,930.89L1089.84,929.95L1092.85,929.05L1095.86,928.17L1098.86,927.31L1101.87,926.46L1104.88,925.61L1107.89,924.76L1110.90,923.90L1113.90,923.02L1116.91,922.13L1119.92,921.22L1122.93,920.30L1125.94,919.37L1128.94,918.43L1131.95,917.49L1134.96,916.54L1137.97,915.58L1140.98,914.62L1143.98,913.66L1146.99,912.71L1150.00,911.75L1153.01,910.79L1156.01,909.83L1159.02,908.87L1162.03,907.91L1165.04,906.95L1168.05,906.00L1171.05,905.05L1174.06,904.10L1177.07,903.15L1180.08,902.21L1183.09,901.27L1186.09,900.34L1189.10,899.41L1192.11,898.49L1195.12,897.57L1198.13,896.65L1201.13,895.75L1204.14,894.85L1207.15,893.96L1210.16,893.07L1213.17,892.19L1216.17,891.33L1219.18,890.47L1222.19,889.62L1225.20,888.77L1228.20,887.94L1231.21,887.12L1234.22,886.31L1237.23,885.51L1240.24,884.72L1243.24,883.94L1246.25,883.17L1249.26,882.40L1252.27,881.65L1255.28,880.90L1258.28,880.16L1261.29,879.42L1264.30,878.70L1267.31,877.97L1270.32,877.26L1273.32,876.55L1276.33,875.84L1279.34,875.14L1282.35,874.44L1285.36,873.75L1288.36,873.05L1291.37,872.37L1294.38,871.68L1297.39,871.00L1300.39,870.31L1303.40,869.63L1306.41,868.95L1309.42,868.27L1312.43,867.59L1315.43,866.91L1318.44,866.23L1321.45,865.55L1324.46,864.86L1327.47,864.18L1330.47,863.49L1333.48,862.81L1336.49,862.13L1339.50,861.45L1342.51,860.77L1345.51,860.09L1348.52,859.42L1351.53,858.75L1354.54,858.09L1357.55,857.43L1360.55,856.78L1363.56,856.14L1366.57,855.50L1369.58,854.87L1372.58,854.25L1375.59,853.64L1378.60,853.03L1381.61,852.44L1384.62,851.86L1387.62,851.28L1390.63,850.73L1393.64,850.18L1396.65,849.64L1399.66,849.12L1402.66,848.62L1405.67,848.13L1408.68,847.65L1411.69,847.19L1414.70,846.75L1417.70,846.31L1420.71,845.88L1423.72,845.45L1426.73,845.01L1429.74,844.57L1432.74,844.11L1435.75,843.64L1438.76,843.15L1441.77,842.63L1444.77,842.08L1447.78,841.52L1450.79,840.94L1453.80,840.35L1456.81,839.75L1459.81,839.15L1462.82,838.56L1465.83,837.97L1468.84,837.39L1471.85,836.84L1474.85,836.30L1477.86,835.77L1480.87,835.27L1483.88,834.77L1486.89,834.29L1489.89,833.82L1492.90,833.36L1495.91,832.90L1498.92,832.45L1501.93,832.01L1504.93,831.57L1507.94,831.14L1510.95,830.71L1513.96,830.28L1516.96,829.86L1519.97,829.44L1522.98,829.03L1525.99,828.62L1529.00,828.21L1532.00,827.80L1535.01,827.40L1538.02,827.00L1541.03,826.61L1544.04,826.22L1547.04,825.83L1550.05,825.44L1553.06,825.06L1556.07,824.68L1559.08,824.30L1562.08,823.92L1565.09,823.55L1568.10,823.17L1571.11,822.80L1574.12,822.43L1577.12,822.07L1580.13,821.70L1583.14,821.34L1586.15,820.98L1589.15,820.62L1592.16,820.26L1595.17,819.90L1598.18,819.54L1601.19,819.19L1604.19,818.83L1607.20,818.48L1610.21,818.12L1613.22,817.77L1616.23,817.42L1619.23,817.07L1622.24,816.71L1625.25,816.36L1628.26,816.01L1631.27,815.66L1634.27,815.30L1637.28,814.95L1640.29,814.60L1643.30,814.24L1646.31,813.89L1649.31,813.53L1652.32,813.18L1655.33,812.82L1658.34,812.46L1661.34,812.10L1664.35,811.74L1667.36,811.38L1670.37,811.02L1673.38,810.65L1676.38,810.29L1679.39,809.92"/><path stroke="#00ff00" d="M960.50,965.79L963.51,964.61L966.52,963.44L969.52,962.28L972.53,961.13L975.54,959.98L978.55,958.84L981.56,957.70L984.56,956.57L987.57,955.45L990.58,954.33L993.59,953.22L996.60,952.11L999.60,951.00L1002.61,949.89L1005.62,948.79L1008.63,947.69L1011.63,946.60L1014.64,945.50L1017.65,944.40L1020.66,943.31L1023.67,942.21L1026.67,941.12L1029.68,940.02L1032.69,938.93L1035.70,937.83L1038.71,936.73L1041.71,935.62L1044.72,934.52L1047.73,933.41L1050.74,932.30L1053.75,931.18L1056.75,930.07L1059.76,928.95L1062.77,927.84L1065.78,926.73L1068.79,925.62L1071.79,924.52L1074.80,923.42L1077.81,922.33L1080.82,921.24L1083.82,920.16L1086.83,919.08L1089.84,918.02L1092.85,916.96L1095.86,915.92L1098.86,914.89L1101.87,913.86L1104.88,912.86L1107.89,911.86L1110.90,910.88L1113.90,909.91L1116.91,908.97L1119.92,908.03L1122.93,907.12L1125.94,906.23L1128.94,905.35L1131.95,904.50L1134.96,903.66L1137.97,902.85L1140.98,902.06L1143.98,901.30L1146.99,900.54L1150.00,899.80L1153.01,899.06L1156.01,898.32L1159.02,897.58L1162.03,896.81L1165.04,896.03L1168.05,895.22L1171.05,894.38L1174.06,893.51L1177.07,892.61L1180.08,891.68L1183.09,890.74L1186.09,889.79L1189.10,888.83L1192.11,887.87L1195.12,886.91L1198.13,885.96L1201.13,885.03L1204.14,884.12L1207.15,883.23L1210.16,882.35L1213.17,881.50L1216.17,880.66L1219.18,879.84L1222.19,879.04L1225.20,878.25L1228.20,877.49L1231.21,876.74L1234.22,876.01L1237.23,875.30L1240.24,874.60L1243.24,873.92L1246.25,873.25L1249.26,872.60L1252.27,871.96L1255.28,871.33L1258.28,870.72L1261.29,870.12L1264.30,869.53L1267.31,868.95L1270.32,868.38L1273.32,867.82L1276.33,867.26L1279.34,866.72L1282.35,866.18L1285.36,865.65L1288.36,865.13L1291.37,864.61L1294.38,864.09L1297.39,863.58L1300.39,863.08L1303.40,862.57L1306.41,862.07L1309.42,861.57L1312.43,861.07L1315.43,860.58L1318.44,860.08L1321.45,859.58L1324.46,859.08L1327.47,858.57L1330.47,858.04L1333.48,857.49L1336.49,856.92L1339.50,856.32L1342.51,855.69L1345.51,855.01L1348.52,854.29L1351.53,853.52L1354.54,852.70L1357.55,851.85L1360.55,850.98L1363.56,850.11L1366.57,849.25L1369.58,848.41L1372.58,847.62L1375.59,846.87L1378.60,846.20L1381.61,845.61L1384.62,845.09L1387.62,844.65L1390.63,844.27L1393.64,843.93L1396.65,843.63L1399.66,843.34L1402.66,843.07L1405.67,842.79L1408.68,842.49L1411.69,842.17L1414.70,841.82L1417.70,841.43L1420.71,841.02L1423.72,840.59L1426.73,840.14L1429.74,839.66L1432.74,839.17L1435.75,838.67L1438.76,838.16L1441.77,837.64L1444.77,837.11L1447.78,836.58L1450.79,836.06L1453.80,835.53L1456.81,835.01L1459.81,834.50L1462.82,834.00L1465.83,833.51L1468.84,833.04L1471.85,832.59L1474.85,832.16L1477.86,831.74L1480.87,831.34L1483.88,830.95L1486.89,830.57L1489.89,830.21L1492.90,829.84L1495.91,829.48L1498.92,829.13L1501.93,828.77L1504.93,828.42L1507.94,828.06L1510.95,827.71L1513.96,827.35L1516.96,827.00L1519.97,826.64L1522.98,826.28L1525.99,825.93L1529.00,825.57L1532.00,825.21L1535.01,824.86L1538.02,824.50L1541.03,824.14L1544.04,823.78L1547.04,823.42L1550.05,823.07L1553.06,822.71L1556.07,822.35L1559.08,821.99L1562.08,821.63L1565.09,821.27L1568.10,820.90L1571.11,820.54L1574.12,820.18L1577.12,819.82L1580.13,819.46L1583.14,819.09L1586.15,818.73L1589.15,818.37L1592.16,818.00L1595.17,817.64L1598.18,817.27L1601.19,816.90L1604.19,816.54L1607.20,816.17L1610.21,815.80L1613.22,815.43L1616.23,815.07L1619.23,814.70L1622.24,814.33L1625.25,813.96L1628.26,813.58L1631.27,813.21L1634.27,812.84L1637.28,812.47L1640.29,812.09L1643.30,811.72L1646.31,811.34L1649.31,810.97L1652.32,810.59L1655.33,810.21L1658.34,809.84L1661.34,809.46L1664.35,809.08L1667.36,808.70L1670.37,808.32L1673.38,807.93L1676.38,807.55L1679.39,807.17"/><path stroke="#000000" d="M960.50,955.00L963.51,953.85L966.52,952.71L969.52,951.58L972.53,950.45L975.54,949.32L978.55,948.21L981.56,947.10L984.56,946.00L987.57,944.90L990.58,943.81L993.59,942.73L996.60,941.65L999.60,940.58L1002.61,939.52L1005.62,938.46L1008.63,937.41L1011.63,936.37L1014.64,935.33L1017.65,934.30L1020.66,933.27L1023.67,932.25L1026.67,931.24L1029.68,930.23L1032.69,929.23L1035.70,928.24L1038.71,927.25L1041.71,926.26L1044.72,925.28L1047.73,924.31L1050.74,923.35L1053.75,922.39L1056.75,921.43L1059.76,920.48L1062.77,919.54L1065.78,918.60L1068.79,917.67L1071.79,916.74L1074.80,915.82L1077.81,914.90L1080.82,913.99L1083.82,913.09L1086.83,912.19L1089.84,911.29L1092.85,910.41L1095.86,909.52L1098.86,908.64L1101.87,907.77L1104.88,906.90L1107.89,906.04L1110.90,905.18L1113.90,904.33L1116.91,903.48L1119.92,902.64L1122.93,901.80L1125.94,900.96L1128.94,900.13L1131.95,899.31L1134.96,898.49L1137.97,897.68L1140.98,896.87L1143.98,896.06L1146.99,895.26L1150.00,894.47L1153.01,893.67L1156.01,892.89L1159.02,892.11L1162.03,891.33L1165.04,890.55L1168.05,889.78L1171.05,889.02L1174.06,888.26L1177.07,887.50L1180.08,886.75L1183.09,886.00L1186.09,885.26L1189.10,884.52L1192.11,883.78L1195.12,883.05L1198.13,882.33L1201.13,881.60L1204.14,880.88L1207.15,880.17L1210.16,879.46L1213.17,878.75L1216.17,878.05L1219.18,877.35L1222.19,876.65L1225.20,875.96L1228.20,875.28L1231.21,874.59L1234.22,873.91L1237.23,873.24L1240.24,872.57L1243.24,871.90L1246.25,871.24L1249.26,870.58L1252.27,869.92L1255.28,869.27L1258.28,868.62L1261.29,867.98L1264.30,867.34L1267.31,866.70L1270.32,866.06L1273.32,865.43L1276.33,864.81L1279.34,864.19L1282.35,863.57L1285.36,862.95L1288.36,862.34L1291.37,861.73L1294.38,861.13L1297.39,860.53L1300.39,859.93L1303.40,859.33L1306.41,858.74L1309.42,858.15L1312.43,857.57L1315.43,856.99L1318.44,856.41L1321.45,855.84L1324.46,855.27L1327.47,854.70L1330.47,854.14L1333.48,853.58L1336.49,853.02L1339.50,852.47L1342.51,851.92L1345.51,851.37L1348.52,850.82L1351.53,850.28L1354.54,849.74L1357.55,849.21L1360.55,848.68L1363.56,848.15L1366.57,847.62L1369.58,847.10L1372.58,846.58L1375.59,846.07L1378.60,845.55L1381.61,845.04L1384.62,844.53L1387.62,844.03L1390.63,843.53L1393.64,843.03L1396.65,842.54L1399.66,842.04L1402.66,841.55L1405.67,841.07L1408.68,840.58L1411.69,840.10L1414.70,839.62L1417.70,839.15L1420.71,838.68L1423.72,838.21L1426.73,837.74L1429.74,837.27L1432.74,836.81L1435.75,836.35L1438.76,835.90L1441.77,835.45L1444.77,834.99L1447.78,834.55L1450.79,834.10L1453.80,833.66L1456.81,833.22L1459.81,832.78L1462.82,832.35L1465.83,831.91L1468.84,831.48L1471.85,831.06L1474.85,830.63L1477.86,830.21L1480.87,829.79L1483.88,829.37L1486.89,828.96L1489.89,828.54L1492.90,828.13L1495.91,827.73L1498.92,827.32L1501.93,826.92L1504.93,826.52L1507.94,826.12L1510.95,825.72L1513.96,825.33L1516.96,824.94L1519.97,824.55L1522.98,824.16L1525.99,823.78L1529.00,823.39L1532.00,823.01L1535.01,822.63L1538.02,822.26L1541.03,821.88L1544.04,821.51L1547.04,821.14L1550.05,820.77L1553.06,820.40L1556.07,820.04L1559.08,819.67L1562.08,819.31L1565.09,818.95L1568.10,818.59L1571.11,818.23L1574.12,817.87L1577.12,817.52L1580.13,817.16L1583.14,816.81L1586.15,816.45L1589.15,816.10L1592.16,815.75L1595.17,815.39L1598.18,815.04L1601.19,814.69L1604.19,814.34L1607.20,813.99L1610.21,813.64L1613.22,813.29L1616.23,812.94L1619.23,812.58L1622.24,812.23L1625.25,811.88L1628.26,811.53L1631.27,811.18L1634.27,810.83L1637.28,810.47L1640.29,810.12L1643.30,809.76L1646.31,809.41L1649.31,809.05L1652.32,808.69L1655.33,808.34L1658.34,807.98L1661.34,807.62L1664.35,807.25L1667.36,806.89L1670.37,806.52L1673.38,806.16L1676.38,805.79L1679.39,805.42"/></g><rect x="960.5" y="557.5" width="788.0" height="557.0" fill="none" stroke="#000" stroke-width="2.8"/><path d="M949,1106.42H960.5M955,1082.51H960.5M949,1058.60H960.5M955,1034.69H960.5M949,1010.78H960.5M955,986.87H960.5M949,962.96H960.5M955,939.05H960.5M949,915.14H960.5M955,891.23H960.5M949,867.32H960.5M955,843.41H960.5M949,819.50H960.5M955,795.59H960.5M949,771.68H960.5M955,747.77H960.5M949,723.86H960.5M955,699.95H960.5M949,676.04H960.5M955,652.13H960.5M949,628.22H960.5M955,604.31H960.5M949,580.40H960.5M984.00,1114.5V1126M1033.64,1114.5V1120M1083.29,1114.5V1126M1132.93,1114.5V1120M1182.57,1114.5V1126M1232.21,1114.5V1120M1281.86,1114.5V1126M1331.50,1114.5V1120M1381.14,1114.5V1126M1430.78,1114.5V1120M1480.42,1114.5V1126M1530.07,1114.5V1120M1579.71,1114.5V1126M1629.35,1114.5V1120M1678.99,1114.5V1126M1728.64,1114.5V1120" stroke="#000" stroke-width="2.8" fill="none"/><g font-family="&quot;Liberation Sans&quot;, Arial, sans-serif" font-size="24" letter-spacing="0.66" fill="#000"><text x="941.3" y="1113.6" text-anchor="end">331.6</text><text x="941.3" y="1065.8" text-anchor="end">331.8</text><text x="941.3" y="1018.0" text-anchor="end">332.0</text><text x="941.3" y="970.2" text-anchor="end">332.2</text><text x="941.3" y="922.3" text-anchor="end">332.4</text><text x="941.3" y="874.5" text-anchor="end">332.6</text><text x="941.3" y="826.7" text-anchor="end">332.8</text><text x="941.3" y="778.9" text-anchor="end">333.0</text><text x="941.3" y="731.1" text-anchor="end">333.2</text><text x="941.3" y="683.2" text-anchor="end">333.4</text><text x="941.3" y="635.4" text-anchor="end">333.6</text><text x="941.3" y="587.6" text-anchor="end">333.8</text><text x="984.7" y="1151.9" text-anchor="middle">850</text><text x="1084.0" y="1151.9" text-anchor="middle">900</text><text x="1183.3" y="1151.9" text-anchor="middle">950</text><text x="1282.6" y="1151.9" text-anchor="middle">1000</text><text x="1381.8" y="1151.9" text-anchor="middle">1050</text><text x="1481.1" y="1151.9" text-anchor="middle">1100</text><text x="1580.4" y="1151.9" text-anchor="middle">1150</text><text x="1679.7" y="1151.9" text-anchor="middle">1200</text></g></svg>
</body></html>
